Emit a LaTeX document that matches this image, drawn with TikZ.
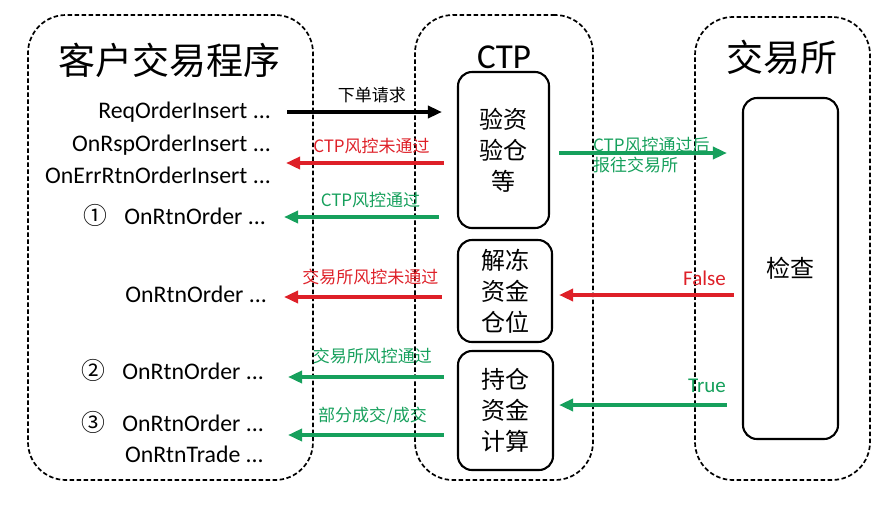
\documentclass[tikz,border=0pt]{standalone}
\usepackage{fontspec}
\setmainfont{Carlito}
\newfontfamily\cjk{Noto Sans CJK SC}
\usetikzlibrary{arrows.meta}
\definecolor{failred}{RGB}{222,32,40}
\definecolor{passgreen}{RGB}{22,160,92}
\tikzset{
  zone/.style={draw, line width=1.7pt, dash pattern=on 4.5pt off 2.5pt, rounded corners=38pt},
  stage/.style={draw, line width=2.1pt, rounded corners=14pt, align=center, inner sep=0pt,
                font=\cjk\fontsize{24}{31}\selectfont},
  call/.style={anchor=east, inner sep=0pt, font=\fontsize{23.8}{28}\selectfont},
  tag/.style={inner sep=0pt, font=\cjk\fontsize{17}{20}\selectfont},
  arr/.style={line width=3.4pt, -{Triangle[length=14pt,width=12pt]}}
}

\begin{document}
\begin{tikzpicture}[x=1pt, y=-1pt]
    \useasboundingbox (0,0) rectangle (890,504);

    % the three parties
    \node[zone, minimum width=285pt, minimum height=465pt] (client) at (170.5,247.5) {};
    \node[zone, minimum width=178pt, minimum height=465pt] (ctp) at (504,247.5) {};
    \node[zone, minimum width=175pt, minimum height=463pt] (exch) at (782.5,248.5) {};
    \node[font=\cjk\fontsize{37}{40}\selectfont] (clientT) at (169,60) {客户交易程序};
    \node[font=\fontsize{35}{40}\selectfont] (ctpT) at (504,57) {CTP};
    \node[font=\cjk\fontsize{37}{40}\selectfont] (exchT) at (782,57) {交易所};

    % CTP steps and exchange check
    \node[stage, minimum width=91pt, minimum height=156pt] (chk) at (503.5,150) {验资\\验仓\\等};
    \node[stage, minimum width=94pt, minimum height=102pt] (unfrz) at (505,291) {解冻\\资金\\仓位};
    \node[stage, minimum width=95pt, minimum height=119pt] (calc) at (505.5,410.5) {持仓\\资金\\计算};
    \node[stage, minimum width=95pt, minimum height=341pt] (exchk) at (790.5,268.5) {检查};

    % client callbacks
    \node[call] (req) at (271,112) {ReqOrderInsert ...};
    \node[call] (rsp) at (271,145) {OnRspOrderInsert ...};
    \node[call] (err) at (271,175) {OnErrRtnOrderInsert ...};
    \node[call] (ord1) at (266,215) {{\cjk ①}\hspace{0.7em}OnRtnOrder ...};
    \node[call] (ordx) at (267,294) {OnRtnOrder ...};
    \node[call] (ord2) at (264,370) {{\cjk ②}\hspace{0.7em}OnRtnOrder ...};
    \node[call] (ord3) at (264,422) {{\cjk ③}\hspace{0.7em}OnRtnOrder ...};
    \node[call] (trade) at (264,454) {OnRtnTrade ...};

    % client <-> CTP
    \coordinate (r1) at (287,112);
    \coordinate (r2) at (286,163);
    \coordinate (r3) at (284,217);
    \coordinate (r4) at (284,297);
    \coordinate (r5) at (288,377);
    \coordinate (r6) at (288,435);
    \draw[arr, shorten >=15pt] (r1) -- (r1 -| chk.west) node[midway, above=7pt, tag] {下单请求};
    \draw[arr, failred, shorten <=13pt] (r2 -| chk.west) -- (r2) node[midway, above=7pt, tag] {CTP风控未通过};
    \draw[arr, passgreen, shorten <=18pt] (r3 -| chk.west) -- (r3) node[midway, above=7pt, tag] {CTP风控通过};
    \draw[arr, failred, shorten <=15pt] (r4 -| unfrz.west) -- (r4) node[midway, above=10pt, tag] {交易所风控未通过};
    \draw[arr, passgreen, shorten <=13pt] (r5 -| calc.west) -- (r5) node[midway, above=11pt, tag] {交易所风控通过};
    \draw[arr, passgreen, shorten <=13pt] (r6 -| calc.west) -- (r6) node[midway, above=9pt, tag] {部分成交/成交};

    % CTP <-> exchange
    \coordinate (s1) at (0,153);
    \coordinate (s2) at (0,295);
    \coordinate (s3) at (0,405);
    \draw[arr, passgreen, shorten <=9pt, shorten >=15pt] (s1 -| chk.east) -- (s1 -| exchk.west);
    \node[tag, passgreen, anchor=west, align=left] (fwd) at (593,155) {CTP风控通过后\\报往交易所};
    \draw[arr, failred, shorten <=8pt, shorten >=6pt] (s2 -| exchk.west) -- (s2 -| unfrz.east);
    \node[anchor=east, inner sep=0pt, failred, font=\fontsize{21}{24}\selectfont] (no) at (726,278) {False};
    \draw[arr, passgreen, shorten <=15pt, shorten >=5pt] (s3 -| exchk.west) -- (s3 -| calc.east);
    \node[anchor=east, inner sep=0pt, passgreen, font=\fontsize{21}{24}\selectfont] (yes) at (726,386) {True};
\end{tikzpicture}
\end{document}
